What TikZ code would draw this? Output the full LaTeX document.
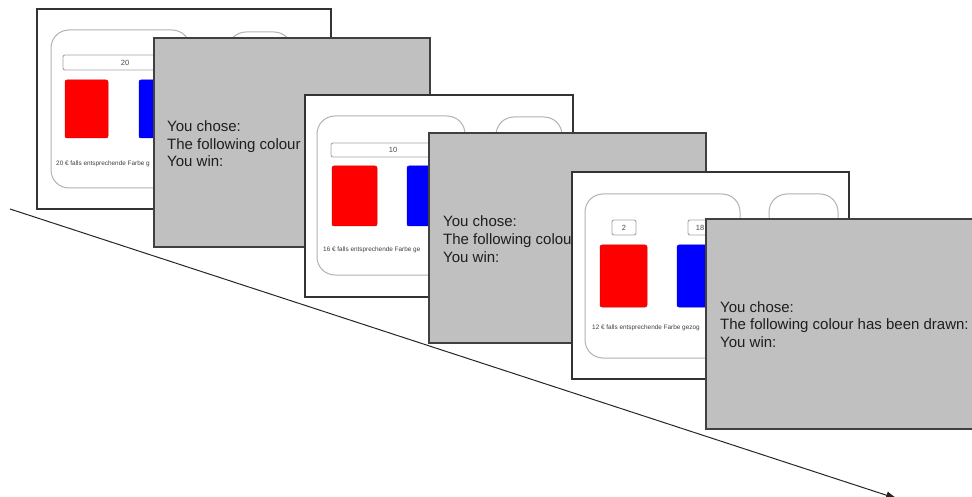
\documentclass[tikz,border=0pt]{standalone}
\usepackage{fontspec}
\setmainfont{Liberation Sans}
\usetikzlibrary{arrows.meta}
\definecolor{panelgray}{HTML}{C0C0C0}
\definecolor{txt}{HTML}{1E1E1E}
\begin{document}
\begin{tikzpicture}[x=1pt,y=-1pt,
  screenbox/.style={draw=black!80,line width=1.6pt,fill=white},
  panelbox/.style={draw=black!75,line width=1.4pt,fill=panelgray},
  framebox/.style={draw=black!30,line width=1pt,rounded corners=18pt,fill=white},
  numbox/.style={draw=black!35,line width=0.9pt,rounded corners=2pt,fill=white},
  redcard/.style={fill=red,draw=red!85!black,line width=0.5pt,rounded corners=2pt},
  bluecard/.style={fill=blue,draw=blue!85!black,line width=0.5pt,rounded corners=2pt},
  msg/.style={anchor=base west,inner sep=0pt,text=txt,font=\fontsize{15}{17.5}\selectfont},
  numtxt/.style={inner sep=0pt,text=black!70,font=\fontsize{7.5}{8}\selectfont},
  tiny/.style={anchor=west,inner sep=0pt,text=black!75,font=\fontsize{6.4}{7}\selectfont}]
\useasboundingbox (0,0) rectangle (972,497);

% timeline arrow
\coordinate (tstart) at (10,209);
\coordinate (tend) at (898,499);
\draw[line width=1pt,black!85,-{Latex[length=12pt,width=8pt]}] (tstart) -- (tend);

% ---------- screen 1 ----------
\draw[screenbox] (37,9) rectangle (331,209);
\draw[framebox] (51,30) rectangle (190,188);
\draw[framebox] (228,32) rectangle (292,110);
\draw[numbox] (63,55) rectangle (187,70);
\node[numtxt] (n1) at (125,62.5) {20};
\draw[redcard] (65,80) rectangle (108,138);
\draw[bluecard] (139,80) rectangle (182,138);
\node[tiny] (t1) at (56,164) {20 € falls entsprechende Farbe g};

% ---------- panel 1 ----------
\draw[panelbox] (154,38) rectangle (430,247);
\node[msg] (p1a) at (167,132) {You chose:};
\node[msg] (p1b) at (167,149.5) {The following colour};
\node[msg] (p1c) at (167,167) {You win:};

% ---------- screen 2 ----------
\draw[screenbox] (305,95) rectangle (573,297);
\draw[framebox] (317,116) rectangle (465,275);
\draw[framebox] (496,117) rectangle (562,200);
\draw[numbox] (331,143) rectangle (455,157);
\node[numtxt] (n2) at (393,150) {10};
\draw[redcard] (332,166) rectangle (377,226);
\draw[bluecard] (407,166) rectangle (452,226);
\node[tiny] (t2) at (323,250) {16 € falls entsprechende Farbe ge};

% ---------- panel 2 ----------
\draw[panelbox] (429,133) rectangle (706,343);
\node[msg] (p2a) at (443,227) {You chose:};
\begin{scope}
  \clip (429,133) rectangle (572,343);
  \node[msg] (p2b) at (443,244.5) {The following colour};
\end{scope}
\node[msg] (p2c) at (443,262) {You win:};

% ---------- screen 3 ----------
\draw[screenbox] (572,172) rectangle (849,379);
\draw[framebox] (585,194) rectangle (740,358);
\draw[framebox] (769,194) rectangle (838,280);
\draw[numbox] (612,220) rectangle (636,235);
\node[numtxt] (n3a) at (624,227.5) {2};
\draw[numbox] (688,220) rectangle (712,235);
\node[numtxt] (n3b) at (700,227.5) {18};
\draw[redcard] (600,245) rectangle (647,307);
\draw[bluecard] (677,245) rectangle (724,307);
\node[tiny] (t3) at (592,328) {12 € falls entsprechende Farbe gezog};

% ---------- panel 3 ----------
\draw[panelbox] (706,219) rectangle (985,429);
\node[msg] (p3a) at (720,312) {You chose:};
\node[msg] (p3b) at (720,329.5) {The following colour has been drawn:};
\node[msg] (p3c) at (720,347) {You win:};
\end{tikzpicture}
\end{document}
